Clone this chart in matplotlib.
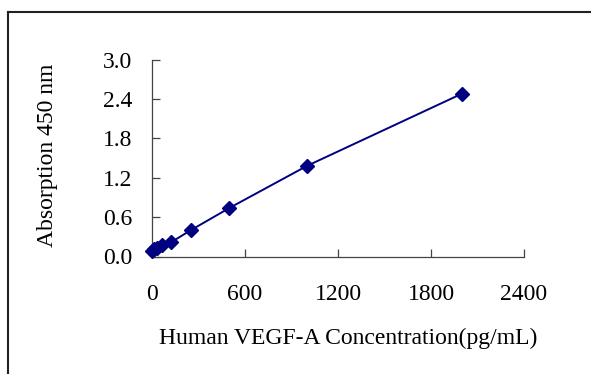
# VEGF-A ELISA standard curve, redrawn from a reference image

import matplotlib
matplotlib.use("Agg")
import matplotlib.pyplot as plt
from matplotlib.lines import Line2D

# Standard concentrations (pg/mL) and measured absorbance at 450 nm
concentration = [0, 15.6, 31.25, 62.5, 125, 250, 500, 1000, 2000]
absorbance = [0.08, 0.11, 0.13, 0.17, 0.22, 0.40, 0.74, 1.38, 2.48]

x_ticks = [0, 600, 1200, 1800, 2400]
y_ticks = [0.0, 0.6, 1.2, 1.8, 2.4, 3.0]

NAVY = "#000080"

plt.rcParams["font.family"] = ["Liberation Serif", "DejaVu Serif"]

fig = plt.figure(figsize=(5.91, 3.74), dpi=100)
ax = fig.add_axes([152 / 591, 1 - 256.5 / 374, 372 / 591, 197 / 374])

ax.plot(concentration, absorbance, color=NAVY, linewidth=1.4,
        marker="D", markersize=7, markerfacecolor=NAVY,
        markeredgecolor=NAVY, clip_on=False, zorder=3)

ax.set_xlim(0, 2400)
ax.set_ylim(0, 3.0)
ax.set_xticks(x_ticks)
ax.set_xticklabels([str(v) for v in x_ticks])
ax.set_yticks(y_ticks)
ax.set_yticklabels([f"{v:.1f}" for v in y_ticks])

for side in ["top", "right"]:
    ax.spines[side].set_visible(False)
for side in ["left", "bottom"]:
    ax.spines[side].set_color("#444444")
    ax.spines[side].set_linewidth(0.9)

ax.tick_params(axis="both", direction="in", length=6, width=0.9,
               color="#444444", labelsize=17)
ax.tick_params(axis="x", pad=20)
ax.tick_params(axis="y", pad=14)

ax.set_xlabel("Human VEGF-A Concentration(pg/mL)", fontsize=17)
ax.xaxis.set_label_coords(0.527, -0.36)
ax.set_ylabel("Absorption 450 nm", fontsize=17)
ax.yaxis.set_label_coords(-0.253, 0.513)

# outer frame of the original chart area (runs past the right/bottom edges)
fig.add_artist(Line2D([8 / 591, 8 / 591], [0, 1 - 12 / 374],
                      transform=fig.transFigure, color="#222222", linewidth=1.5))
fig.add_artist(Line2D([8 / 591, 1], [1 - 12 / 374, 1 - 12 / 374],
                      transform=fig.transFigure, color="#222222", linewidth=1.5))

fig.savefig("out.png", dpi=100)
